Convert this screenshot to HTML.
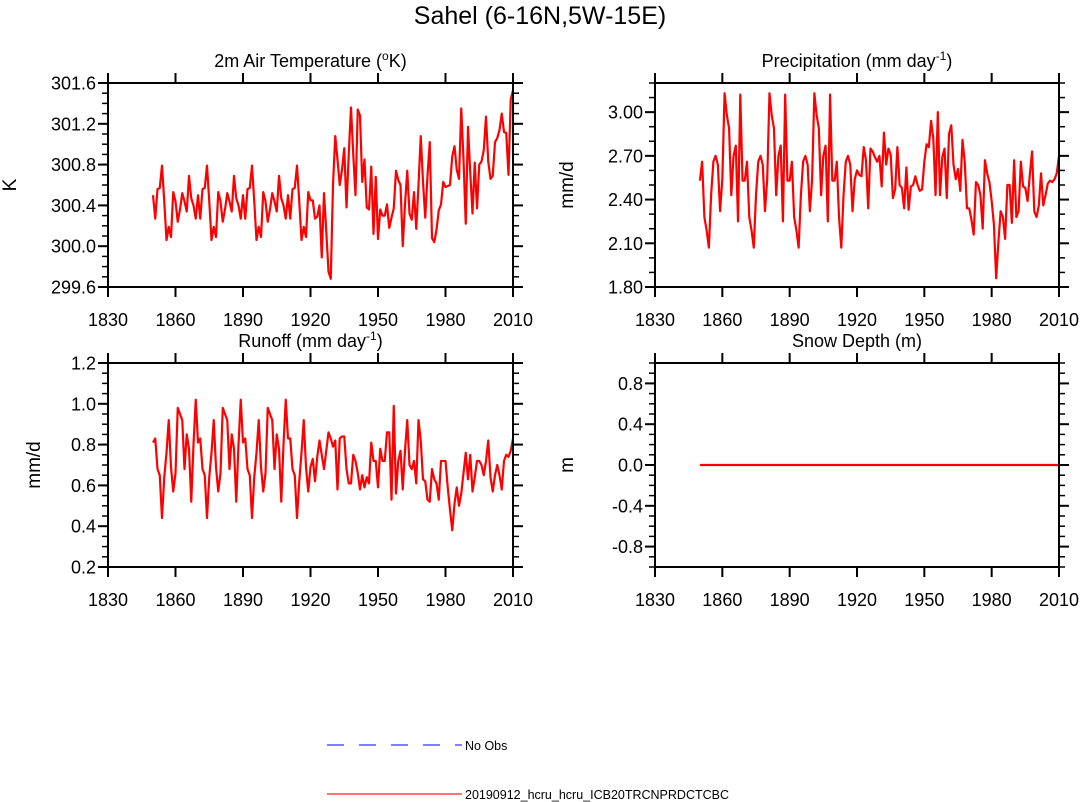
<!DOCTYPE html>
<html><head><meta charset="utf-8"><style>
html,body{margin:0;padding:0;background:#fff;}
svg{display:block;font-family:"Liberation Sans",Helvetica,Arial,sans-serif;}
</style></head><body>
<svg id="fig" width="1080" height="802" viewBox="0 0 1080 802">
<text x="540" y="24" text-anchor="middle" font-size="25">Sahel (6-16N,5W-15E)</text>
<g>
<line x1="327" y1="745" x2="462" y2="745" stroke="#3333ff" stroke-width="1.3" stroke-dasharray="17,15"/>
<text x="465" y="750" font-size="12.5">No Obs</text>
<line x1="327" y1="794" x2="462" y2="794" stroke="#ff2222" stroke-width="1.3"/>
<text x="465" y="799" font-size="12.5">20190912_hcru_hcru_ICB20TRCNPRDCTCBC</text>
</g>
</svg>
<script>
const years = [];
for (let y = 1850; y <= 2010; y++) years.push(y);
const xTicks = [1830,1860,1890,1920,1950,1980,2010];

const tempValues = [
300.50,300.27,300.56,300.57,300.79,300.44,300.06,300.19,300.09,300.53,300.44,300.24,300.36,300.52,300.44,300.34,300.69,300.47,300.40,300.27,
300.50,300.27,300.56,300.57,300.79,300.44,300.06,300.19,300.09,300.53,300.44,300.24,300.36,300.52,300.44,300.34,300.69,300.47,300.40,300.27,
300.50,300.27,300.56,300.57,300.79,300.44,300.06,300.19,300.09,300.53,300.44,300.24,300.36,300.52,300.44,300.34,300.69,300.47,300.40,300.27,
300.50,300.27,300.56,300.57,300.79,300.44,300.06,300.19,300.09,300.53,300.45,300.45,300.27,300.29,300.40,299.89,300.52,300.15,299.75,299.68,
300.60,301.08,300.85,300.60,300.75,300.96,300.38,300.90,301.36,300.90,300.50,301.34,301.28,300.63,300.85,300.38,300.36,300.78,300.12,300.68,
300.07,300.36,300.30,300.30,300.41,300.18,300.28,300.37,300.74,300.65,300.60,300.00,300.41,300.74,300.32,300.26,300.53,300.17,300.60,301.08,
300.63,300.28,300.69,301.02,300.08,300.04,300.16,300.35,300.41,300.63,300.58,300.59,300.60,300.88,300.98,300.75,300.66,301.35,300.85,300.22,
301.17,300.72,300.32,300.82,300.37,300.80,300.83,300.94,301.27,300.83,300.66,300.69,301.02,301.06,301.14,301.30,301.12,301.11,300.70,301.44,
301.53];
const tempTicks = [299.6,300.0,300.4,300.8,301.2,301.6];

const precipValues = [
2.53,2.66,2.28,2.19,2.07,2.43,2.66,2.70,2.64,2.32,2.54,3.13,2.98,2.89,2.43,2.70,2.77,2.25,3.12,2.53,
2.53,2.66,2.28,2.19,2.07,2.43,2.66,2.70,2.64,2.32,2.54,3.13,2.98,2.89,2.43,2.70,2.77,2.25,3.12,2.53,
2.53,2.66,2.28,2.19,2.07,2.43,2.66,2.70,2.64,2.32,2.54,3.13,2.98,2.89,2.43,2.70,2.77,2.25,3.12,2.53,
2.53,2.66,2.28,2.07,2.43,2.66,2.70,2.64,2.32,2.54,2.60,2.57,2.56,2.76,2.67,2.34,2.75,2.73,2.69,2.66,
2.70,2.49,2.86,2.64,2.75,2.71,2.41,2.47,2.76,2.50,2.48,2.34,2.62,2.33,2.49,2.50,2.56,2.50,2.46,2.47,
2.66,2.78,2.76,2.94,2.82,2.43,3.00,2.43,2.69,2.75,2.41,2.85,2.91,2.64,2.54,2.61,2.46,2.81,2.66,2.34,
2.34,2.26,2.16,2.52,2.50,2.43,2.20,2.67,2.58,2.52,2.39,2.23,1.86,2.11,2.32,2.28,2.13,2.50,2.50,2.24,
2.67,2.28,2.32,2.66,2.49,2.48,2.39,2.57,2.73,2.32,2.28,2.36,2.58,2.36,2.43,2.51,2.53,2.52,2.54,2.58,
2.70];
const precipTicks = [1.80,2.10,2.40,2.70,3.00];

const runoffValues = [
0.81,0.83,0.68,0.65,0.44,0.64,0.76,0.92,0.69,0.57,0.66,0.98,0.95,0.92,0.68,0.85,0.78,0.52,0.80,1.02,
0.81,0.83,0.68,0.65,0.44,0.64,0.76,0.92,0.69,0.57,0.66,0.98,0.95,0.92,0.68,0.85,0.78,0.52,0.80,1.02,
0.81,0.83,0.68,0.65,0.44,0.64,0.76,0.92,0.69,0.57,0.66,0.98,0.95,0.92,0.68,0.85,0.78,0.52,0.80,1.02,
0.83,0.83,0.68,0.65,0.44,0.62,0.76,0.92,0.69,0.57,0.69,0.73,0.62,0.74,0.82,0.75,0.68,0.77,0.86,0.83,
0.79,0.82,0.58,0.83,0.84,0.84,0.68,0.61,0.61,0.75,0.72,0.66,0.58,0.65,0.59,0.64,0.61,0.81,0.72,0.72,
0.59,0.78,0.72,0.72,0.86,0.86,0.53,0.99,0.56,0.72,0.77,0.58,0.77,0.92,0.70,0.68,0.72,0.61,0.92,0.82,
0.63,0.62,0.53,0.52,0.68,0.63,0.61,0.53,0.72,0.72,0.72,0.59,0.48,0.38,0.51,0.59,0.50,0.56,0.66,0.76,
0.63,0.75,0.57,0.64,0.72,0.72,0.70,0.65,0.72,0.82,0.64,0.57,0.65,0.70,0.65,0.58,0.72,0.75,0.74,0.77,
0.83];
const runoffTicks = [0.2,0.4,0.6,0.8,1.0,1.2];

const snowValues = years.map(() => 0.0);
const snowTicks = [-0.8,-0.4,0.0,0.4,0.8];

const NS = "http://www.w3.org/2000/svg";
const svg = document.getElementById('fig');
function mk(tag, attrs, parent) {
  const e = document.createElementNS(NS, tag);
  for (const k in attrs) e.setAttribute(k, attrs[k]);
  (parent || svg).appendChild(e);
  return e;
}

function panel(opt) {
  const g = mk('g', {});
  
  
  const L = opt.x0, R = opt.x1, T = opt.y0, B = opt.y1;
  const xs = v => L + (v - 1830) / 180 * (R - L);
  const ys = v => B - (v - opt.ymin) / (opt.ymax - opt.ymin) * (B - T);
  const t = mk('text', {x: (L + R) / 2, y: T - 16, 'text-anchor': 'middle', 'font-size': 18}, g);
  t.innerHTML = opt.title;
  
  
  const vals = opt.values;
  let d = '';
  for (let i = 0; i < years.length; i++) {
    d += (i ? 'L' : 'M') + xs(years[i]).toFixed(2) + ' ' + ys(vals[i]).toFixed(2);
  }
  const p = mk('path', {d: d, fill: 'none', stroke: '#ff0000', 'stroke-width': 2.2, 'stroke-linejoin': 'round'}, g);
  
  
  const f = mk('rect', {x: L, y: T, width: R - L, height: B - T, fill: 'none', stroke: '#000', 'stroke-width': 2}, g);
  
  
  xTicks.forEach(v => {
    const x = xs(v);
    mk('line', {x1: x, y1: B, x2: x, y2: B + 10, stroke: '#000', 'stroke-width': 2}, g);
    mk('line', {x1: x, y1: T, x2: x, y2: T - 10, stroke: '#000', 'stroke-width': 2}, g);
    const lb = mk('text', {x: x, y: B + 39, 'text-anchor': 'middle', 'font-size': 18}, g);
    lb.textContent = v;
    
    
  });
  const nMin = Math.round((opt.ymax - opt.ymin) / opt.minor);
  for (let i = 0; i <= nMin; i++) {
    const y = ys(opt.ymin + i * opt.minor);
    mk('line', {x1: L, y1: y, x2: L - 6, y2: y, stroke: '#000', 'stroke-width': 1.5}, g);
    mk('line', {x1: R, y1: y, x2: R + 6, y2: y, stroke: '#000', 'stroke-width': 1.5}, g);
  }
  opt.ticks.forEach(v => {
    const y = ys(v);
    mk('line', {x1: L, y1: y, x2: L - 10, y2: y, stroke: '#000', 'stroke-width': 2}, g);
    mk('line', {x1: R, y1: y, x2: R + 10, y2: y, stroke: '#000', 'stroke-width': 2}, g);
    const lb = mk('text', {x: L - 12, y: y + 6.5, 'text-anchor': 'end', 'font-size': 18}, g);
    lb.textContent = v.toFixed(opt.dec);
    
    
  });
  const yl = mk('text', {x: 0, y: 0, 'text-anchor': 'middle', 'font-size': 19,
    transform: 'translate(' + opt.ylx + ',' + ((T + B) / 2) + ') rotate(-90)'}, g);
  yl.textContent = opt.ylabel;
  
  
}

panel({name: 'temperature-panel', x0: 108, x1: 513, y0: 83, y1: 287, ymin: 299.6, ymax: 301.6,
  ticks: tempTicks, minor: 0.1, dec: 1, values: tempValues, ylabel: 'K', ylx: 16,
  title: '2m Air Temperature (<tspan baseline-shift="super" font-size="12">o</tspan>K)'});
panel({name: 'precipitation-panel', x0: 655, x1: 1059, y0: 83, y1: 287, ymin: 1.8, ymax: 3.2,
  ticks: precipTicks, minor: 0.1, dec: 2, values: precipValues, ylabel: 'mm/d', ylx: 573,
  title: 'Precipitation (mm day<tspan baseline-shift="super" font-size="12">-1</tspan>)'});
panel({name: 'runoff-panel', x0: 108, x1: 513, y0: 363, y1: 567, ymin: 0.2, ymax: 1.2,
  ticks: runoffTicks, minor: 0.05, dec: 1, values: runoffValues, ylabel: 'mm/d', ylx: 40,
  title: 'Runoff (mm day<tspan baseline-shift="super" font-size="12">-1</tspan>)'});
panel({name: 'snow-depth-panel', x0: 655, x1: 1059, y0: 363, y1: 567, ymin: -1.0, ymax: 1.0,
  ticks: snowTicks, minor: 0.1, dec: 1, values: snowValues, ylabel: 'm', ylx: 573,
  title: 'Snow Depth (m)'});
</script>
</body></html>
